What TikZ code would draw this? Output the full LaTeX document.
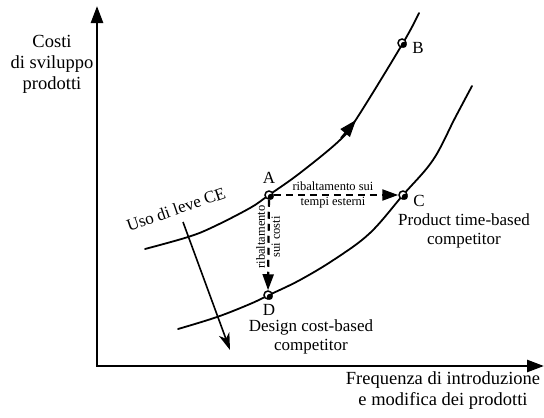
\documentclass[tikz,border=0pt]{standalone}
\usepackage{fontspec}
\setmainfont{Liberation Serif}
\usetikzlibrary{arrows.meta}
\begin{document}
\begin{tikzpicture}[x=1pt,y=-1pt,
  lbl/.style={font=\fontsize{17}{19.5}\selectfont, inner sep=0pt, align=center},
  axlbl/.style={font=\fontsize{18.5}{21}\selectfont, inner sep=0pt, align=center},
  small/.style={font=\fontsize{12.5}{15}\selectfont, inner sep=0pt, align=center},
  curve/.style={line width=1.8pt, line cap=round},
  axisline/.style={line width=2.6pt, {Triangle[length=17pt,width=12pt]}-{Triangle[length=17pt,width=12pt]}},
  dasharrow/.style={line width=2.2pt, dash pattern=on 7pt off 5pt, -{Triangle[length=16pt,width=11pt]}},
  pt/.style={circle, draw, line width=1.5pt, minimum size=8pt, inner sep=0pt, fill=white},
]
\useasboundingbox (0,0) rectangle (544,418);
% axes
\coordinate (O) at (97,366);
\coordinate (Ytop) at (97,6);
\coordinate (Xend) at (544,366);
\draw[axisline] (Ytop) -- (O) -- (Xend);
% curves
\draw[curve] plot[smooth, tension=0.6] coordinates {(145,249) (188,237) (213,227) (250,208) (269,195) (300,173) (340,140) (357,118) (403,43) (419,13)};
\draw[curve] plot[smooth, tension=0.6] coordinates {(178,329) (217,317) (250,304) (269,295) (300,280) (335,259) (370,233) (403,195) (433,160) (455,118) (472,86)};
% arrow on upper curve
\coordinate (m1) at (341,138);
\coordinate (m2) at (356,120);
\draw[line width=1.8pt, -{Triangle[length=17pt,width=12pt]}] (m1) -- (m2);
% points
\node[pt] (A) at (269,195) {};
\node[pt] (B) at (402,43) {};
\node[pt] (C) at (403,195) {};
\node[pt] (D) at (268,295) {};
\foreach \p in {A,B,C,D} \fill ([shift={(1.8,1.8)}]\p.center) circle (3pt);
% dashed arrows
\draw[dasharrow] (A) -- (C);
\draw[dasharrow] (A) -- (D);
% point labels
\node[lbl] (lA) at (269,178) {A};
\node[lbl] (lB) at (418,48) {B};
\node[lbl] (lC) at (419,201) {C};
\node[lbl] (lD) at (269,310) {D};
% arrow labels
\node[small] (lh) at (333,195) {ribaltamento sui\\tempi esterni};
\node[small, rotate=90] (lv) at (268,237) {ribaltamento\\sui costi};
% descriptions
\node[lbl] (pt1) at (464,231) {Product time-based\\competitor};
\node[lbl] (ds1) at (311,337) {Design cost-based\\competitor};
% axis labels
\node[axlbl] (ylab) at (52,64) {Costi\\di sviluppo\\prodotti};
\node[axlbl] (xlab) at (443,391) {Frequenza di introduzione\\e modifica dei prodotti};
% leve CE
\node[lbl, rotate=19] (leve) at (176,209) {Uso di leve CE};
\coordinate (L1) at (183,222);
\coordinate (L2) at (230,350);
\draw[line width=1.6pt, -{Stealth[length=17pt,width=11pt,inset=5pt]}] (L1) -- (L2);
\end{tikzpicture}
\end{document}
